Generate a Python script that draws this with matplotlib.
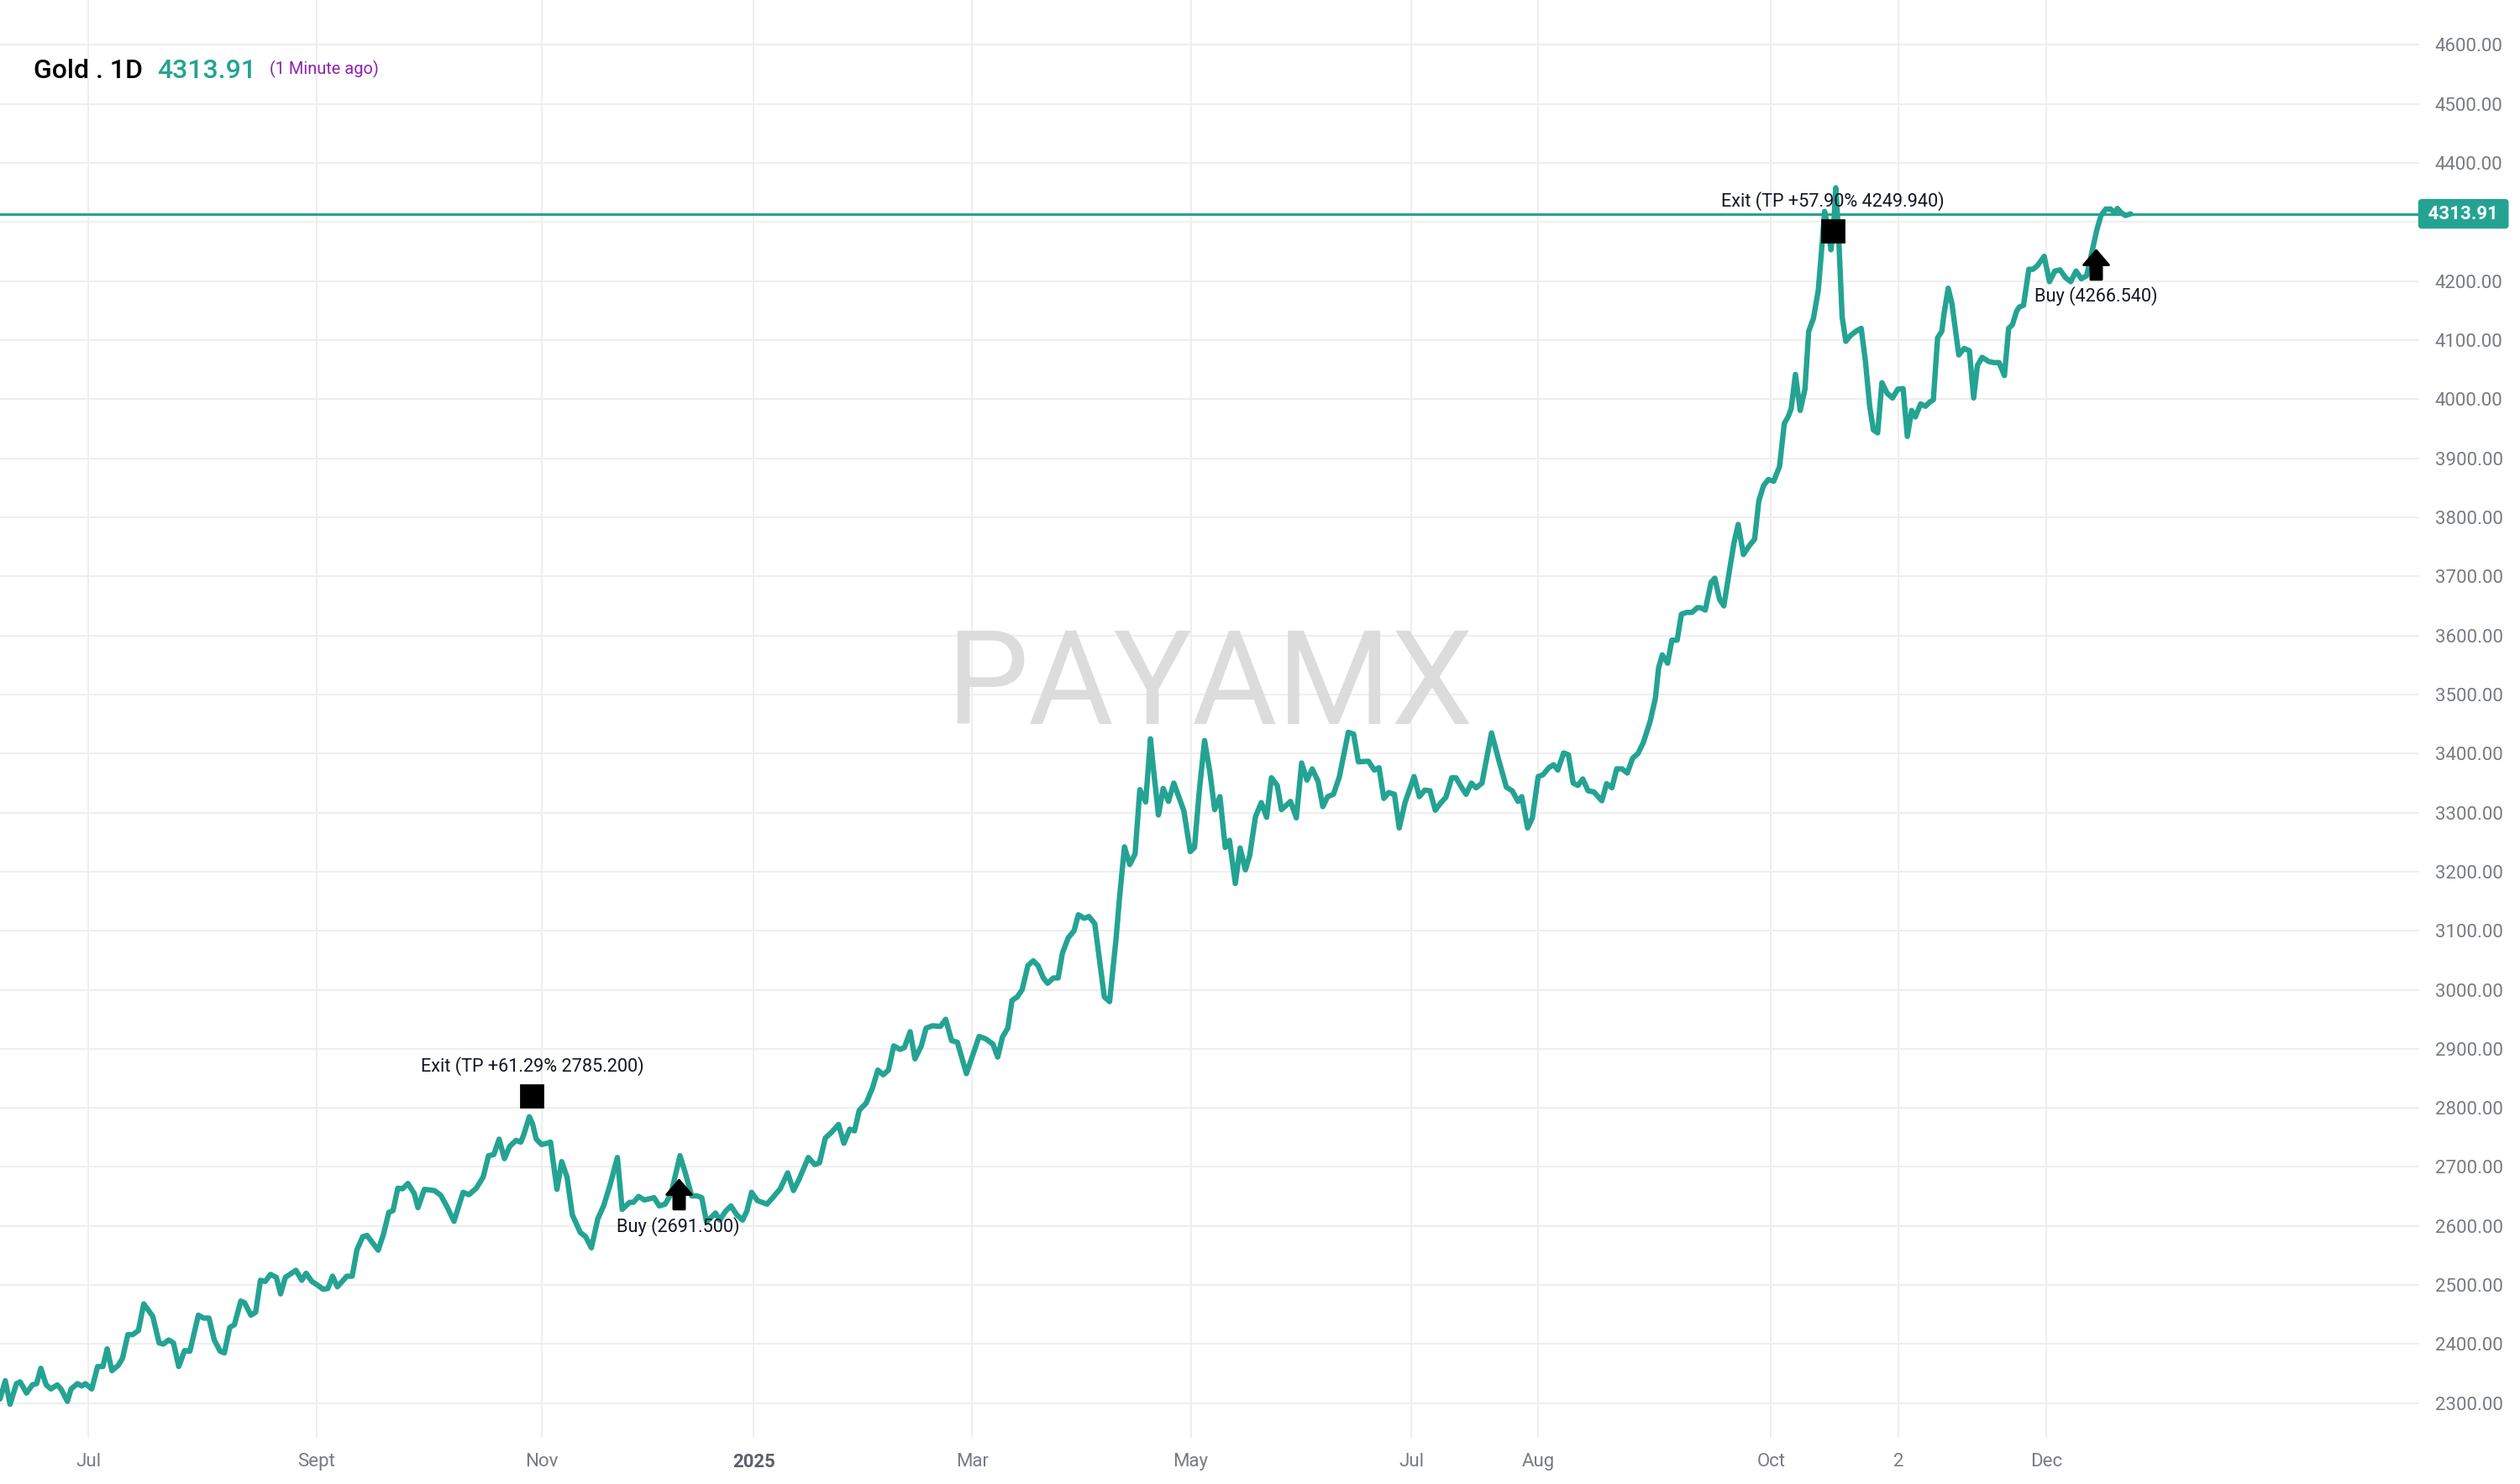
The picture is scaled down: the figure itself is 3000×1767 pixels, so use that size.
import matplotlib
matplotlib.use('Agg')
import matplotlib.pyplot as plt
from matplotlib.path import Path
from matplotlib.transforms import ScaledTranslation, blended_transform_factory

plt.rcParams['font.family'] = ['Roboto', 'DejaVu Sans']

# ---- daily close of Gold (bar index = trading-day position on the time axis) ----
bars = [
    0, 1.0, 1.9, 3.1, 3.8, 5.0, 6.1, 6.9, 7.7, 8.7, 9.6, 10.8, 11.5, 12.7, 13.4, 14.6,
    15.4, 16.1, 17.3, 18.4, 19.4, 20.2, 21.1, 22.3, 23.1, 24.1, 25.0, 26.1, 27.1, 28.8,
    30.0, 30.8, 31.8, 32.7, 33.7, 34.8, 35.8, 37.4, 38.4, 39.4, 40.4, 41.5, 42.3, 43.3,
    44.2, 45.4, 46.1, 47.3, 48.2, 49.1, 50.0, 51.0, 52.1, 52.9, 53.8, 55.8, 56.9, 57.7,
    58.8, 60.0, 60.9, 61.8, 62.7, 63.6, 65.4, 66.4, 67.3, 68.4, 69.2, 71.3, 72.3, 73.3,
    74.1, 75.0, 75.9, 76.9, 78.1, 78.8, 80.0, 81.9, 83.1, 84.2, 85.6, 87.3, 88.4, 89.8,
    91.1, 92.1, 93.1, 94.1, 95.1, 96.1, 97.3, 98.2, 98.8, 99.8, 100.4, 101.1, 102.1,
    103.1, 103.8, 105.0, 105.9, 106.9, 107.9, 109.4, 110.4, 111.5, 112.7, 113.8, 115.0,
    116.4, 117.3, 118.7, 119.4, 120.4, 121.5, 123.3, 124.3, 125.4, 126.5, 128.2, 129.2,
    130.4, 131.4, 132.3, 133.2, 133.9, 134.9, 135.7, 136.8, 137.8, 138.9, 140.0, 140.8,
    141.7, 142.8, 144.6, 145.7, 147.1, 148.5, 149.6, 150.6, 152.4, 153.6, 154.5, 155.6,
    156.7, 158.1, 159.1, 160.2, 161.1, 162.0, 163.3, 164.5, 165.5, 166.5, 167.5, 168.5,
    169.7, 170.5, 171.6, 172.5, 173.7, 174.6, 175.8, 177.3, 178.3, 179.4, 180.5, 182.2,
    183.3, 184.6, 185.8, 187.2, 188.1, 189.0, 190.0, 190.8, 191.8, 192.7, 193.8, 194.8,
    195.7, 196.7, 197.5, 198.6, 199.5, 200.3, 201.4, 202.5, 203.3, 204.4, 205.3, 206.4,
    208.2, 209.2, 210.4, 211.1, 212.0, 213.0, 214.0, 214.9, 216.0, 216.9, 217.3, 218.4,
    219.3, 220.3, 221.3, 223.2, 224.4, 225.2, 226.1, 227.1, 228.1, 229.0, 230.0, 231.0,
    231.8, 232.9, 233.8, 234.8, 235.6, 236.7, 237.8, 238.8, 239.7, 240.8, 241.6, 243.3,
    244.4, 245.4, 246.4, 247.4, 248.5, 249.4, 250.3, 251.4, 252.5, 254.2, 255.2, 256.1,
    258.0, 259.1, 260.0, 260.9, 261.8, 262.9, 263.8, 264.9, 266.6, 267.6, 268.6, 269.6,
    270.6, 271.5, 272.6, 273.7, 274.5, 275.4, 276.4, 277.4, 278.3, 279.4, 281.2, 282.5,
    284.0, 285.1, 286.2, 286.9, 288.0, 288.9, 290.0, 290.9, 292.0, 292.9, 293.7, 294.8,
    295.7, 296.6, 297.5, 298.4, 299.4, 300.5, 302.0, 302.9, 303.9, 304.8, 305.8, 306.8,
    307.8, 308.8, 309.8, 311.1, 312.1, 312.7, 313.4, 314.4, 315.2, 316.2, 317.0, 318.0,
    319.0, 320.0, 320.6, 321.5, 322.6, 323.3, 324.2, 325.0, 326.1, 326.9, 327.7, 328.7,
    329.8, 330.8, 331.6, 332.5, 333.4, 334.4, 335.5, 336.4, 337.1, 337.7, 338.5, 339.4,
    340.3, 341.0, 341.9, 342.8, 343.4, 344.0, 344.6, 345.2, 345.7, 346.1, 346.6, 347.3,
    348.0, 348.9, 349.9, 350.9, 351.7, 352.5, 353.2, 354.0, 354.8, 355.8, 356.8, 357.8,
    358.8, 359.6, 360.4, 361.1, 362.1, 363.0, 363.8, 364.5, 365.3, 366.1, 366.5, 367.3,
    368.0, 368.6, 369.3, 370.3, 371.3, 372.1, 372.8, 373.7, 374.9, 375.9, 376.9, 377.9,
    378.7, 379.4, 380.2, 380.7, 381.5, 382.5, 383.3, 384.1, 385.4, 386.4, 387.4, 388.4,
    389.4, 390.4, 391.4, 392.4, 393.4, 394.4, 395.3, 396.1, 397.0, 397.9, 398.7, 399.2,
    399.9, 400.7, 401.7,
]
close = [
    2307, 2338, 2298, 2333, 2336, 2317, 2331, 2333, 2359, 2331, 2324, 2331, 2324, 2303, 2324, 2333,
    2329, 2333, 2324, 2362, 2362, 2392, 2355, 2364, 2376, 2416, 2416, 2423, 2468, 2447,
    2402, 2400, 2407, 2402, 2362, 2389, 2388, 2449, 2444, 2444, 2407, 2388, 2385, 2428,
    2433, 2473, 2470, 2449, 2454, 2508, 2506, 2518, 2513, 2485, 2513, 2525, 2508, 2520,
    2506, 2499, 2493, 2494, 2515, 2497, 2515, 2515, 2560, 2582, 2584, 2559, 2586, 2623,
    2626, 2664, 2663, 2672, 2655, 2631, 2662, 2660, 2652, 2634, 2608, 2657, 2653, 2664,
    2683, 2719, 2721, 2747, 2714, 2735, 2745, 2742, 2756, 2785, 2773, 2747, 2738,
    2740, 2742, 2662, 2709, 2683, 2619, 2589, 2582, 2563, 2612, 2634, 2669,
    2716, 2628, 2640, 2640, 2650, 2644, 2648, 2634, 2637, 2654, 2719, 2690,
    2651, 2651, 2648, 2607, 2613, 2622, 2610, 2625, 2634, 2619, 2610, 2625,
    2657, 2643, 2637, 2648, 2663, 2690, 2660, 2678, 2716, 2704, 2707, 2749,
    2758, 2772, 2740, 2764, 2761, 2796, 2808, 2834, 2864, 2856, 2864, 2905,
    2899, 2902, 2929, 2883, 2905, 2935, 2939, 2938, 2950, 2914, 2911, 2858,
    2887, 2921, 2917, 2908, 2886, 2920, 2935, 2982, 2988, 3000, 3041, 3049,
    3041, 3020, 3011, 3020, 3020, 3062, 3088, 3100, 3127, 3121, 3124, 3112,
    2988, 2980, 3085, 3159, 3242, 3212, 3230, 3339, 3318, 3425, 3388, 3296,
    3341, 3319, 3350, 3303, 3234, 3241, 3336, 3422, 3369, 3305, 3327, 3241,
    3253, 3180, 3240, 3203, 3227, 3293, 3317, 3292, 3359, 3346, 3305, 3319,
    3291, 3384, 3355, 3374, 3353, 3310, 3327, 3331, 3360, 3436, 3433, 3386,
    3387, 3372, 3376, 3324, 3334, 3331, 3274, 3317, 3361, 3327, 3338, 3337,
    3304, 3315, 3326, 3359, 3359, 3345, 3331, 3350, 3342, 3350, 3435, 3391,
    3343, 3337, 3319, 3327, 3274, 3291, 3361, 3364, 3376, 3381, 3372, 3401,
    3398, 3350, 3346, 3357, 3337, 3335, 3320, 3349, 3342, 3374, 3374, 3367,
    3392, 3400, 3418, 3454, 3494, 3545, 3567, 3553, 3592, 3592, 3636, 3639,
    3639, 3647, 3647, 3643, 3690, 3697, 3661, 3650, 3712, 3756, 3788, 3737,
    3752, 3763, 3828, 3854, 3864, 3861, 3886, 3959, 3970, 3984, 4042, 3981,
    4017, 4115, 4137, 4184, 4249, 4318, 4293, 4253, 4293, 4358, 4286, 4140,
    4098, 4108, 4115, 4120, 4064, 3988, 3948, 3943, 4028, 4010, 4002, 4017,
    4018, 3937, 3981, 3970, 3992, 3988, 3995, 3999, 4104, 4115, 4144, 4188,
    4162, 4122, 4075, 4086, 4082, 4002, 4057, 4071, 4064, 4062, 4062, 4040,
    4120, 4126, 4149, 4156, 4159, 4220, 4220, 4226, 4242, 4199, 4217, 4219,
    4206, 4199, 4217, 4204, 4209, 4249, 4286, 4311, 4322, 4322, 4316, 4323,
    4316, 4311, 4313.91,
]
last_price = 4313.91

time_tick_pos = [16.7, 59.7, 102.1, 142.1, 183.3, 224.5, 266.1, 290.0, 333.9, 357.9, 385.8]
time_tick_labels = ['Jul', 'Sept', 'Nov', '2025', 'Mar', 'May', 'Jul', 'Aug', 'Oct', '2', 'Dec']
price_ticks = list(range(2300, 4700, 100))

trade_bars = [100.3, 127.9, 345.5, 395.2]
trade_prices = [2785.2, 2691.5, 4249.94, 4266.54]
trade_kinds = ['exit', 'buy', 'exit', 'buy']
trade_labels = ['Exit (TP +61.29% 2785.200)', 'Buy (2691.500)',
                'Exit (TP +57.90% 4249.940)', 'Buy (4266.540)']

TEAL = '#24a393'
GRID = '#eeeeee'
AXIS_TXT = '#787b86'

fig = plt.figure(figsize=(15, 8.835), dpi=200, facecolor='white')
ax = fig.add_axes([0, 0.0314, 0.96, 0.9686])
ax.set_facecolor('white')
ax.set_xlim(0, 456.1)
ax.set_ylim(2242, 4676)
for s in ax.spines.values():
    s.set_visible(False)

ax.set_xticks(time_tick_pos)
ax.set_xticklabels(time_tick_labels)
ax.set_yticks(price_ticks)
ax.set_yticklabels(['' if p == 4300 else f'{p:.2f}' for p in price_ticks])
ax.yaxis.tick_right()
ax.tick_params(axis='both', length=0, labelsize=8, labelcolor=AXIS_TXT)
ax.tick_params(axis='y', pad=6.8)
ax.tick_params(axis='x', pad=6.5)
for lbl in ax.get_xticklabels():
    if lbl.get_text() == '2025':
        lbl.set_fontweight('bold')
        lbl.set_color('#5d606b')
ax.grid(True, color=GRID, lw=0.7)
ax.set_axisbelow(True)

# watermark
fig.text(0.48, 0.5365, 'PAYAMX', fontsize=56, color='#dcdcdc', ha='center', va='center', zorder=0)

# price line & series
ax.axhline(last_price, color=TEAL, lw=1.1, zorder=2)
ax.plot(bars, close, color=TEAL, lw=2.3, solid_joinstyle='round', solid_capstyle='round', zorder=3)

# last price label on the axis
trans_b = blended_transform_factory(ax.transAxes, ax.transData)
ax.text(1.0019, last_price, ' 4313.91 ', transform=trans_b, ha='left', va='center',
        fontsize=8, fontweight='bold', color='white', clip_on=False, zorder=6,
        bbox=dict(boxstyle='round,pad=0.3,rounding_size=0.2', fc=TEAL, ec='none'))

# trade markers
arrow_path = Path(
    [(-0.43, 0.0), (0.0, 0.5), (0.43, 0.0), (0.19, 0.0), (0.19, -0.5), (-0.19, -0.5),
     (-0.19, 0.0), (-0.43, 0.0)],
    [Path.MOVETO] + [Path.LINETO] * 6 + [Path.CLOSEPOLY])

for b, p, kind, lab in zip(trade_bars, trade_prices, trade_kinds, trade_labels):
    if kind == 'exit':
        mk_off, txt_off, marker, ms = 9.0, 21.7, 's', 9.6
    else:
        mk_off, txt_off, marker, ms = -9.6, -23.4, arrow_path, 12.5
    tr = ax.transData + ScaledTranslation(0, mk_off / 72, fig.dpi_scale_trans)
    ax.plot([b], [p], marker=marker, ms=ms, color='black', mec='black', ls='none',
            transform=tr, zorder=5)
    ax.annotate(lab, xy=(b, p), xytext=(0, txt_off), textcoords='offset points',
                ha='center', va='center', fontsize=7.8, color='#131722', zorder=5)

# header
fig.text(0.0134, 0.952, 'Gold . 1D', fontsize=11.5, color='black', ha='left', va='center',
         fontweight='medium')
fig.text(0.0625, 0.952, '4313.91', fontsize=11.5, color=TEAL, ha='left', va='center',
         fontweight='medium')
fig.text(0.107, 0.9535, '(1 Minute ago)', fontsize=7.2, color='#8e24aa', ha='left', va='center')

fig.savefig('out.png', dpi=200, facecolor='white')
